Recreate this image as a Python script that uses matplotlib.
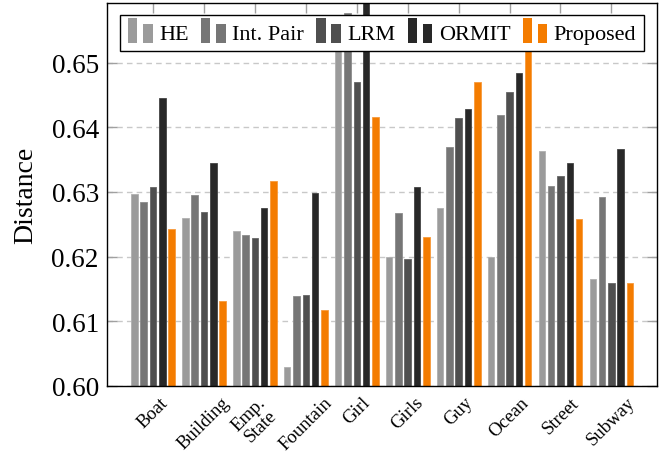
import numpy as np
import matplotlib
matplotlib.use('Agg')
import matplotlib.pyplot as plt
from matplotlib.legend_handler import HandlerBase
from matplotlib.patches import Rectangle
from matplotlib import rcParams

# sequences and methods
SCENES = ['Boat', 'Building', 'Emp.\nState', 'Fountain', 'Girl',
          'Girls', 'Guy', 'Ocean', 'Street', 'Subway']
METHODS = ['HE', 'Int. Pair', 'LRM', 'ORMIT', 'Proposed']

# distance per sequence for each method
HE = [0.6297, 0.6260, 0.6239, 0.6029, 0.6550, 0.6200, 0.6275, 0.6200, 0.6363, 0.6166]
INT_PAIR = [0.6284, 0.6296, 0.6233, 0.6139, 0.6576, 0.6268, 0.6370, 0.6419, 0.6309, 0.6292]
LRM = [0.6308, 0.6269, 0.6228, 0.6141, 0.6470, 0.6196, 0.6415, 0.6455, 0.6324, 0.6159]
ORMIT = [0.6445, 0.6345, 0.6275, 0.6299, 0.6620, 0.6307, 0.6429, 0.6484, 0.6344, 0.6366]
PROPOSED = [0.6243, 0.6131, 0.6317, 0.6118, 0.6416, 0.6230, 0.6470, 0.6530, 0.6258, 0.6159]

YTICKS = [0.60, 0.61, 0.62, 0.63, 0.64, 0.65]

COLORS = ['#9b9b9b', '#767676', '#4f4f4f', '#282828', '#f47c00']
EDGES = ['#b0b0b0', '#8c8c8c', '#666666', '#444444', '#f79a3c']


class TwoBarHandler(HandlerBase):
  """legend key drawn as two small bars, like pgfplots ybar legends"""
  def create_artists(self, legend, orig_handle, xdescent, ydescent,
                     width, height, fontsize, trans):
    bw = width * 0.38
    color = orig_handle.get_facecolor()
    tall = Rectangle((-xdescent, -ydescent - 0.3 * height), bw, height * 1.6,
                     facecolor=color, edgecolor='none', transform=trans)
    short = Rectangle((-xdescent + width - bw, -ydescent - 0.3 * height), bw, height * 1.25,
                      facecolor=color, edgecolor='none', transform=trans)
    return [tall, short]


rcParams['font.family'] = 'Liberation Serif'

fig = plt.figure(figsize=(6.7, 4.6), dpi=100)
ax = fig.add_axes([0.160, 0.159, 0.821, 0.832])

x = np.arange(len(SCENES))
step = 0.183
width = 0.128
series = [HE, INT_PAIR, LRM, ORMIT, PROPOSED]
bars = []
for i, vals in enumerate(series):
  b = ax.bar(x + (i - 2) * step, vals, width=width, color=COLORS[i],
             edgecolor=EDGES[i], linewidth=0.6, label=METHODS[i], zorder=2)
  bars.append(b[0])

ax.set_ylim(0.60, 0.6592)
ax.set_xlim(-0.9, 9.9)

# y axis with dashed grid behind the bars
ax.set_yticks(YTICKS, labels=[f'{v:.2f}' for v in YTICKS], fontsize=19.5)
ax.yaxis.grid(True, color='#c8c8c8', linestyle=(0, (4, 3)), linewidth=1)
ax.set_axisbelow(True)
ax.tick_params(axis='y', direction='in', length=7, width=1, color='#a0a0a0',
               left=True, right=True, pad=6)

ax.set_xticks(x, labels=SCENES, rotation=45, ha='center', va='top',
              multialignment='center', fontsize=13.5)
ax.tick_params(axis='x', direction='in', length=7, width=1, color='#a0a0a0',
               top=True, bottom=True, pad=5.5)
for lbl in ax.get_xticklabels():
  lbl.set_linespacing(0.95)

ax.set_ylabel('Distance', fontsize=20)
ax.yaxis.set_label_coords(-0.126, 0.5)

for side in ['left', 'right', 'top', 'bottom']:
  ax.spines[side].set_color('black')
  ax.spines[side].set_linewidth(1)
  ax.spines[side].set_zorder(3)

leg = ax.legend(bars, METHODS, loc='upper center', ncol=5, fontsize=16,
                handler_map={b: TwoBarHandler() for b in bars},
                handlelength=1.1, handletextpad=0.3, columnspacing=0.55,
                borderpad=0.35, borderaxespad=0.55, fancybox=False,
                framealpha=1, edgecolor='black')
leg.get_frame().set_linewidth(1)
leg.set_zorder(5)

fig.savefig('out.png', dpi=100)
